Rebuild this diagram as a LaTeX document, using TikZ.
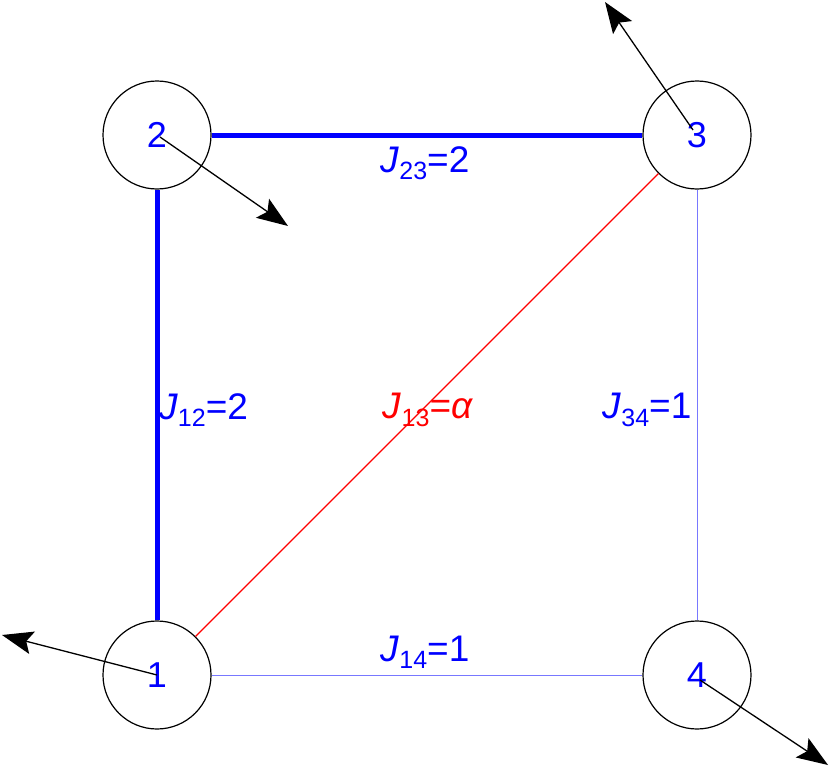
\documentclass[tikz,border=0pt]{standalone}
\usepackage{fontspec}
\setmainfont{Liberation Sans}
\usetikzlibrary{arrows.meta}
\definecolor{bondblue}{RGB}{120,120,255}
\newcommand{\Jsub}[1]{\raisebox{-0.2em}{\fontsize{25}{25}\selectfont #1}}
\tikzset{
  site/.style={circle, draw=black, line width=1.2pt, minimum size=108pt, inner sep=0pt,
    text=blue, font=\fontsize{36}{38}\selectfont},
  lab/.style={font=\fontsize{37}{40}\selectfont, text=blue, inner sep=0pt},
  strongbond/.style={draw=blue, line width=5pt},
  thinbond/.style={draw=bondblue, line width=1pt},
  diagbond/.style={draw=red, line width=1.1pt},
  spin/.style={draw=black, line width=1.3pt, -{Stealth[length=31pt,width=23pt,inset=6pt]}}
}
\begin{document}
\begin{tikzpicture}[x=1pt, y=-1pt]
\useasboundingbox (0,0) rectangle (830,768);
\node[site] (n1) at (157,675) {1};
\node[site] (n2) at (157,135) {2};
\node[site] (n3) at (697,135) {3};
\node[site] (n4) at (697,675) {4};
\coordinate (t1) at (2,635);
\coordinate (t2) at (288,226);
\coordinate (t3) at (605,2);
\coordinate (t4) at (828,765);
\draw[strongbond] (n2) -- (n3);
\draw[strongbond] (n1) -- (n2);
\draw[diagbond] (n1) -- (n3);
\draw[thinbond] (n3) -- (n4);
\draw[thinbond] (n1) -- (n4);
\draw[spin] (n1.center) -- (t1);
\draw[spin] ([shift={(3,2)}]n2.center) -- (t2);
\draw[spin] ([shift={(-4,-5)}]n3.center) -- (t3);
\draw[spin] ([shift={(3,5)}]n4.center) -- (t4);
\node[lab] (l23) at (425,163) {\textit{J}\Jsub{23}=2};
\node[lab] (l14) at (425,652) {\textit{J}\Jsub{14}=1};
\node[lab, anchor=west] (l12) at (159,410) {\textit{J}\Jsub{12}=2};
\node[lab, text=red] (l13) at (428,410) {\textit{J}\Jsub{13}=\textit{α}};
\node[lab] (l34) at (647,410) {\textit{J}\Jsub{34}=1};
\end{tikzpicture}
\end{document}
